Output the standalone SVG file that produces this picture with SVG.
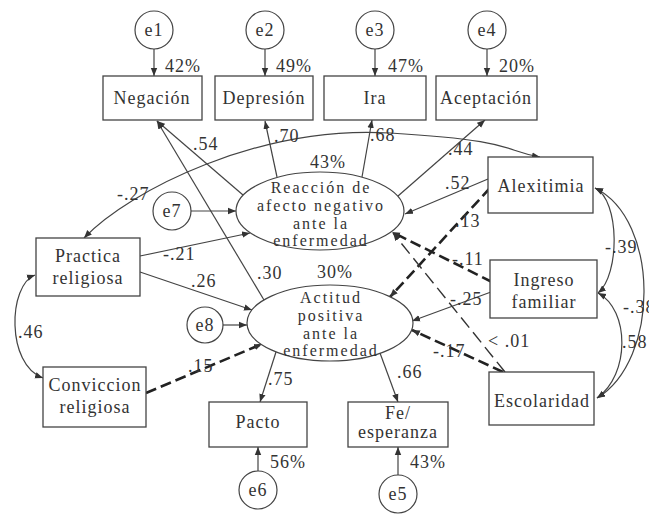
<svg xmlns="http://www.w3.org/2000/svg" width="649" height="514" viewBox="0 0 649 514" font-family="Liberation Serif, serif">
<defs>
<marker id="ah" markerUnits="userSpaceOnUse" markerWidth="9" markerHeight="8" refX="8" refY="4" orient="auto-start-reverse" viewBox="0 0 9 8">
<path d="M0,0.8 L8,4 L0,7.2 Z" fill="#333"/>
</marker>
</defs>
<style>
text{font-size:18px;fill:#333;letter-spacing:1px}
.c{text-anchor:middle}
.s{font-size:16px;letter-spacing:2px}
.box{fill:#fff;stroke:#444;stroke-width:1.3}
.err{fill:#fff;stroke:#444;stroke-width:1.2}
.lat{fill:#fff;stroke:#444;stroke-width:1.2}
.ln{fill:none;stroke:#444;stroke-width:1.2;marker-end:url(#ah)}
.cov{fill:none;stroke:#444;stroke-width:1.2;marker-start:url(#ah);marker-end:url(#ah)}
.dt{fill:none;stroke:#222;stroke-width:2.6;stroke-dasharray:11 5;marker-end:url(#ah)}
.dl{fill:none;stroke:#333;stroke-width:1.4;stroke-dasharray:13 6;marker-end:url(#ah)}
</style>
<rect width="649" height="514" fill="#fff"/>

<g id="connectors">
<line class="ln" x1="154" y1="49" x2="154" y2="76"/>
<line class="ln" x1="265" y1="49" x2="265" y2="76"/>
<line class="ln" x1="375" y1="49" x2="375" y2="76"/>
<line class="ln" x1="487" y1="49" x2="487" y2="76"/>
<line class="ln" x1="243" y1="195" x2="157" y2="121"/>
<line class="ln" x1="264" y1="300" x2="157" y2="121"/>
<line class="ln" x1="277" y1="177" x2="265" y2="121"/>
<line class="ln" x1="362" y1="177" x2="372" y2="120"/>
<line class="ln" x1="398" y1="196" x2="485" y2="120"/>
<line class="ln" x1="191" y1="211" x2="236" y2="211"/>
<line class="ln" x1="140" y1="256" x2="250" y2="233"/>
<line class="ln" x1="488" y1="179" x2="405" y2="214"/>
<line class="ln" x1="140" y1="272" x2="252" y2="310"/>
<line class="ln" x1="223" y1="325" x2="247" y2="325"/>
<line class="dt" x1="146" y1="393" x2="262" y2="344"/>
<line class="ln" x1="276" y1="352" x2="260" y2="402"/>
<line class="ln" x1="380" y1="353" x2="398" y2="402"/>
<line class="ln" x1="258" y1="471" x2="258" y2="447"/>
<line class="ln" x1="398" y1="475" x2="398" y2="447"/>
<line class="dt" x1="490" y1="188" x2="390" y2="297"/>
<line class="dt" x1="492" y1="282" x2="392" y2="232"/>
<line class="dl" x1="505" y1="372" x2="393" y2="233"/>
<line class="ln" x1="491" y1="292" x2="412" y2="321"/>
<line class="dt" x1="503" y1="372" x2="412" y2="330"/>
<path class="cov" d="M84,238 C130,190 260,125 390,133 S500,150 540,157"/>
<path class="cov" d="M35,275 C8,285 6,365 43,378"/>
<path class="cov" d="M595,188 C620,200 620,275 598,293"/>
<path class="cov" d="M595,188 C660,220 660,360 597,398"/>
<path class="cov" d="M598,293 C630,310 630,375 597,398"/>
</g>

<g id="labels">
<text x="165" y="72">42%</text>
<text x="276" y="72">49%</text>
<text x="388" y="72">47%</text>
<text x="499" y="72">20%</text>
<text x="193" y="150">.54</text>
<text x="274" y="142">.70</text>
<text x="370" y="141">.68</text>
<text x="448" y="155">.44</text>
<text x="310" y="168">43%</text>
<text x="445" y="189">.52</text>
<text x="117" y="200">-.27</text>
<text x="163" y="260">-.21</text>
<text x="455" y="227">.13</text>
<text x="452" y="265">-.11</text>
<text x="317" y="278">30%</text>
<text x="257" y="279">.30</text>
<text x="191" y="287">.26</text>
<text x="450" y="305">-.25</text>
<text x="18" y="338">.46</text>
<text x="488" y="347">&lt; .01</text>
<text x="433" y="357">-.17</text>
<text x="188" y="372">.15</text>
<text x="268" y="385">.75</text>
<text x="397" y="378">.66</text>
<text x="270" y="468">56%</text>
<text x="410" y="468">43%</text>
<text x="605" y="253">-.39</text>
<text x="623" y="313">-.38</text>
<text x="622" y="348">.58</text>
</g>

<g id="e1"><circle class="err" cx="154" cy="30" r="19"/><text class="c" x="154" y="36">e1</text></g>
<g id="e2"><circle class="err" cx="265" cy="30" r="19"/><text class="c" x="265" y="36">e2</text></g>
<g id="e3"><circle class="err" cx="375" cy="30" r="19"/><text class="c" x="375" y="36">e3</text></g>
<g id="e4"><circle class="err" cx="487" cy="30" r="19"/><text class="c" x="487" y="36">e4</text></g>
<g id="e7"><circle class="err" cx="172" cy="211" r="19"/><text class="c" x="172" y="217">e7</text></g>
<g id="e8"><circle class="err" cx="205" cy="325" r="18"/><text class="c" x="205" y="331">e8</text></g>
<g id="e6"><circle class="err" cx="258" cy="490" r="19"/><text class="c" x="258" y="496">e6</text></g>
<g id="e5"><circle class="err" cx="398" cy="494" r="19"/><text class="c" x="398" y="500">e5</text></g>

<g id="negacion"><rect class="box" x="103" y="76" width="99" height="44"/><text class="c" x="152" y="104">Negación</text></g>
<g id="depresion"><rect class="box" x="215" y="76" width="98" height="44"/><text class="c" x="264" y="104">Depresión</text></g>
<g id="ira"><rect class="box" x="324" y="76" width="102" height="44"/><text class="c" x="375" y="104">Ira</text></g>
<g id="aceptacion"><rect class="box" x="436" y="76" width="101" height="44"/><text class="c" x="486" y="104">Aceptación</text></g>

<g id="reaccion"><ellipse class="lat" cx="320" cy="211" rx="84" ry="39"/>
<text class="c s" x="321" y="193">Reacción de</text>
<text class="c s" x="321" y="210.8">afecto negativo</text>
<text class="c s" x="321" y="228.6">ante la</text>
<text class="c s" x="321" y="246.4">enfermedad</text></g>

<g id="actitud"><ellipse class="lat" cx="330" cy="323" rx="83" ry="38"/>
<text class="c s" x="331" y="303">Actitud</text>
<text class="c s" x="331" y="320.8">positiva</text>
<text class="c s" x="331" y="338.6">ante la</text>
<text class="c s" x="331" y="356.4">enfermedad</text></g>

<g id="alexitimia"><rect class="box" x="488" y="157" width="105" height="56"/><text class="c" x="541" y="192">Alexitimia</text></g>
<g id="ingreso"><rect class="box" x="490" y="260" width="107" height="58"/><text class="c" x="544" y="286">Ingreso</text><text class="c" x="544" y="308">familiar</text></g>
<g id="escolaridad"><rect class="box" x="489" y="372" width="105" height="53"/><text class="c" x="542" y="407">Escolaridad</text></g>
<g id="practica"><rect class="box" x="36" y="238" width="104" height="58"/><text class="c" x="88" y="262">Practica</text><text class="c" x="88" y="284">religiosa</text></g>
<g id="conviccion"><rect class="box" x="43" y="367" width="103" height="60"/><text class="c" x="95" y="391">Conviccion</text><text class="c" x="95" y="413">religiosa</text></g>
<g id="pacto"><rect class="box" x="209" y="402" width="98" height="45"/><text class="c" x="258" y="428">Pacto</text></g>
<g id="fe"><rect class="box" x="348" y="402" width="100" height="45"/><text class="c" x="398" y="419">Fe/</text><text class="c" x="398" y="438">esperanza</text></g>
</svg>
